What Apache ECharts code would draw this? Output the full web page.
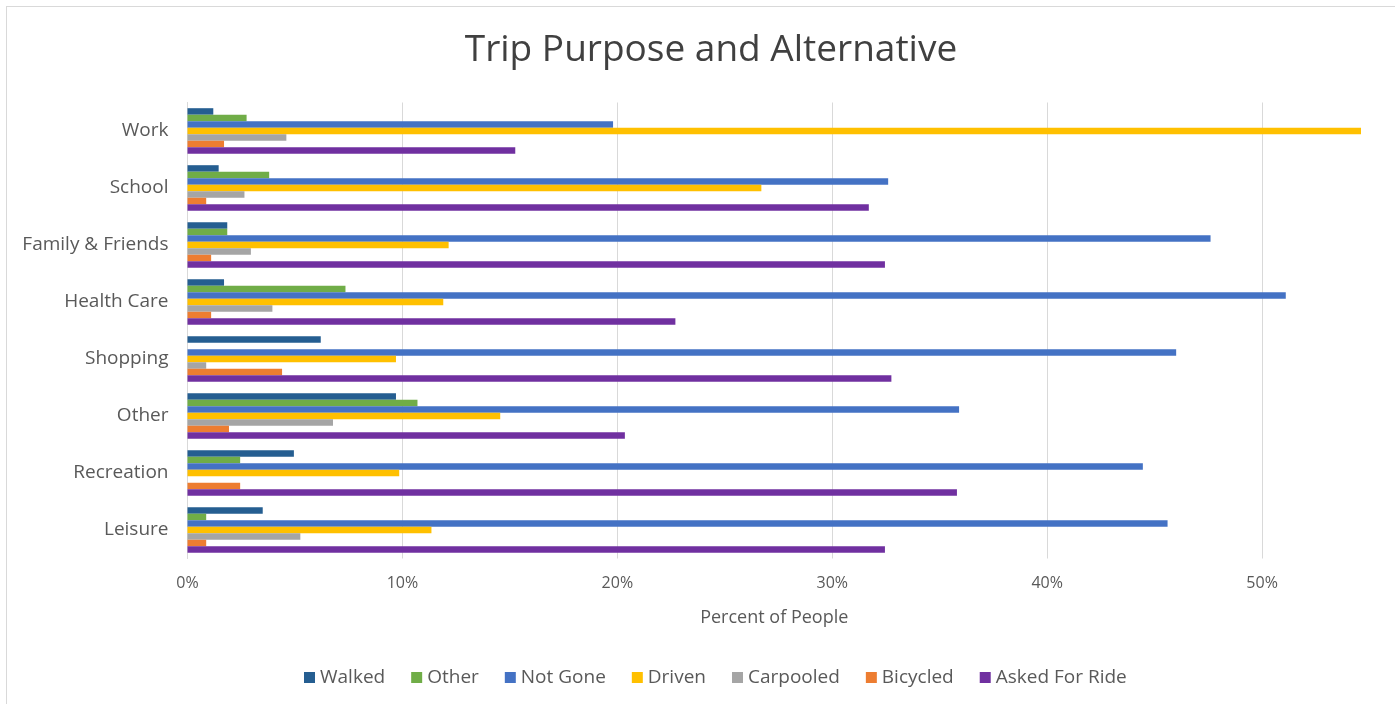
<!DOCTYPE html>
<html>
<head>
<meta charset="utf-8">
<script src="https://cdn.jsdelivr.net/npm/echarts@6/dist/echarts.min.js"></script>
<style>
  html, body { margin: 0; padding: 0; background: #ffffff; }
  #frame { position: absolute; left: 6px; top: 6px; width: 1400px; height: 710px; border-left: 1px solid #d9d9d9; border-top: 1px solid #d9d9d9; box-sizing: border-box; }
  #chart { position: absolute; left: 0; top: 0; width: 1395px; height: 704px; }
</style>
</head>
<body>
<div id="frame"></div>
<div id="chart"></div>
<script>
// Categories (top to bottom)
var categories = ["Work", "School", "Family & Friends", "Health Care", "Shopping", "Other", "Recreation", "Leisure"];
// Series names
var seriesNames = ["Walked", "Other", "Not Gone", "Driven", "Carpooled", "Bicycled", "Asked For Ride"];
// Values in percent, per category (same order as categories)
var walked       = [1.2, 1.45, 1.85, 1.7, 6.2, 9.7, 4.95, 3.5];
var other        = [2.75, 3.8, 1.85, 7.35, 0, 10.7, 2.45, 0.87];
var notGone      = [19.8, 32.6, 47.6, 51.1, 46.0, 35.9, 44.45, 45.6];
var driven       = [54.6, 26.7, 12.15, 11.9, 9.7, 14.55, 9.85, 11.35];
var carpooled    = [4.6, 2.65, 2.95, 3.95, 0.87, 6.77, 0, 5.25];
var bicycled     = [1.7, 0.87, 1.1, 1.1, 4.4, 1.93, 2.45, 0.87];
var askedForRide = [15.25, 31.7, 32.45, 22.7, 32.75, 20.35, 35.8, 32.45];
// Axis ticks
var xMax = 54.6;
var xInterval = 10;

var seriesData = [walked, other, notGone, driven, carpooled, bicycled, askedForRide];
var colors = ["#255e91", "#70ad47", "#4472c4", "#ffc000", "#a5a5a5", "#ed7d31", "#7030a0"];

var chart = echarts.init(document.getElementById('chart'), null, { renderer: 'canvas' });
var font = "'Open Sans', 'DejaVu Sans', sans-serif";

var series = seriesNames.map(function (name, i) {
  return {
    name: name,
    type: 'bar',
    data: seriesData[i],
    barGap: '0%',
    barCategoryGap: '20%',
    itemStyle: { color: colors[i] },
    emphasis: { disabled: true }
  };
});

chart.setOption({
  animation: false,
  backgroundColor: 'transparent',
  color: colors,
  textStyle: { fontFamily: font },
  title: {
    text: 'Trip Purpose and Alternative',
    left: 706,
    textAlign: 'center',
    top: 27,
    textStyle: { fontFamily: font, fontSize: 37, fontWeight: 'normal', color: '#404040' }
  },
  legend: {
    data: seriesNames,
    left: 299,
    top: 663,
    icon: 'rect',
    itemWidth: 11,
    itemHeight: 11,
    itemGap: 26,
    textStyle: { fontFamily: font, fontSize: 19, color: '#595959' }
  },
  grid: {
    left: 187.5,
    right: 34,
    top: 102.5,
    height: 456,
    containLabel: false
  },
  xAxis: {
    type: 'value',
    min: 0,
    max: xMax,
    interval: xInterval,
    name: 'Percent of People',
    nameLocation: 'middle',
    nameGap: 50,
    nameTextStyle: { fontFamily: font, fontSize: 18, color: '#595959' },
    axisLine: { show: false },
    axisTick: { show: false },
    axisLabel: {
      fontFamily: font,
      fontSize: 16,
      color: '#595959',
      margin: 17,
      showMaxLabel: false,
      formatter: function (v) { return (Math.abs(v % 10) < 1e-6) ? v + '%' : ''; }
    },
    splitLine: { show: true, showMaxLine: false, lineStyle: { color: '#d9d9d9', width: 1 } }
  },
  yAxis: {
    type: 'category',
    data: categories,
    inverse: true,
    axisLine: { show: true, lineStyle: { color: '#d9d9d9' } },
    axisTick: { show: false },
    axisLabel: { fontFamily: font, fontSize: 19, color: '#595959', margin: 19 }
  },
  series: series
});
</script>
</body>
</html>
